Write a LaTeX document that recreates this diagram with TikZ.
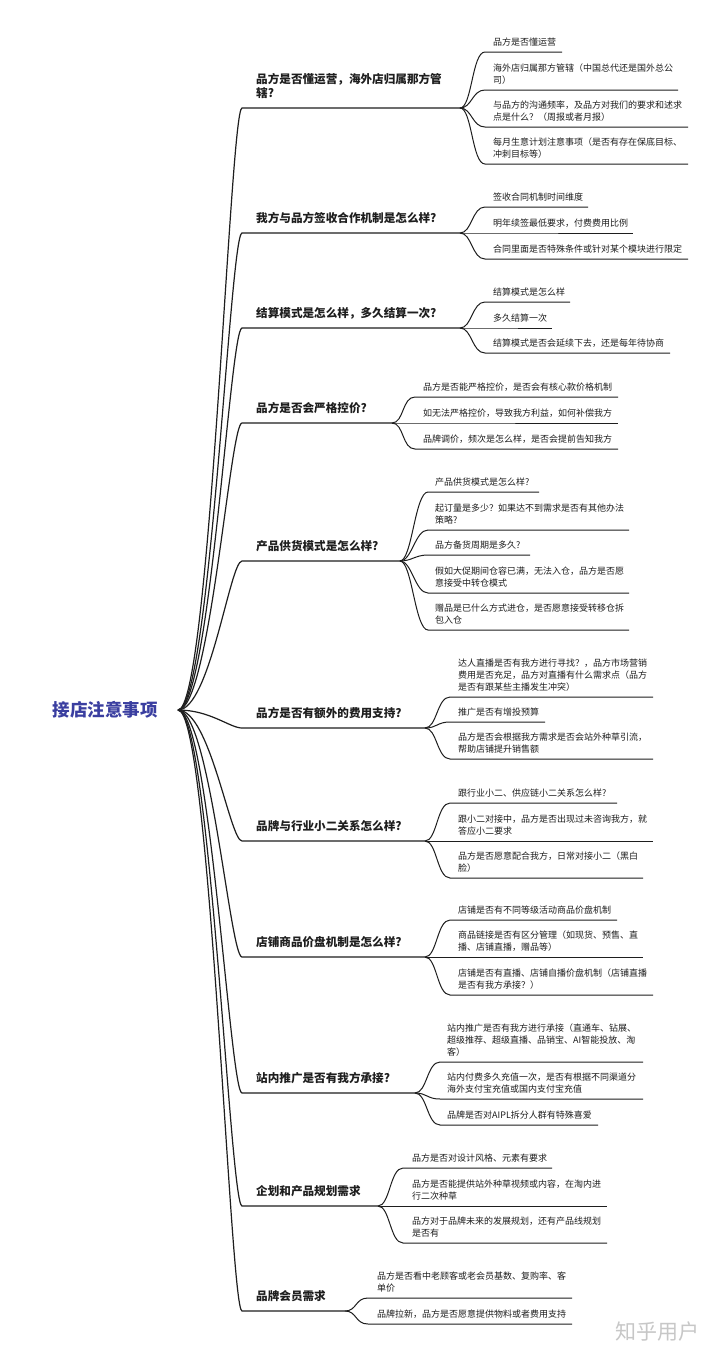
\documentclass[tikz,border=0pt]{standalone}
\usepackage{fontspec}
\newfontfamily\cjk{Noto Sans CJK SC}
\definecolor{rootblue}{RGB}{58,62,160}
\definecolor{ink}{RGB}{30,30,30}
\tikzset{
  l1text/.style={font=\cjk\bfseries\fontsize{11.6}{14}\selectfont, anchor=base west, inner sep=0pt, align=left, text=ink},
  l2text/.style={font=\cjk\fontsize{9}{11.8}\selectfont, anchor=base west, inner sep=0pt, align=left, text=ink},
  l1line/.style={line width=1.2pt, draw=ink},
  l2line/.style={line width=1pt, draw=ink},
  roottext/.style={font=\cjk\bfseries\fontsize{17.5}{20}\selectfont, text=rootblue, inner sep=0pt},
  wmark/.style={font=\cjk\fontsize{21}{24}\selectfont, text=black!22, inner sep=0pt}
}
% base anchor of a multi-line node is the baseline of its last line
\newcommand{\mmbranch}[5]{%
  \coordinate (#1s) at (242,#2);
  \coordinate (#1j) at (#3,#2);
  \draw[l1line] (r) .. controls +(32,0) and +(-12,0) .. (#1s) -- (#1j);
  \node[l1text] (#1t) at (256,{#2-10.6}) {#5};
}
\newcommand{\mmkid}[8]{%
  \coordinate (#1s) at (#3,#4);
  \coordinate (#1e) at (#5,#4);
  \draw[l2line] (#2) .. controls +(12,0) and +(-13,0) .. (#1s) -- (#1e);
  \node[l2text] (#1t) at (#6,{#4-7}) {#8};
}
\begin{document}
\begin{tikzpicture}[x=1pt,y=-1pt]
\useasboundingbox (0,0) rectangle (720,1357);
\fill[white] (0,0) rectangle (720,1357);
\node[roottext] (root) at (105,710) {接店注意事项};
\coordinate (r) at (178,710);

% Branch 1
\mmbranch{b1}{108}{460}{2}{品方是否懂运营，海外店归属那方管\\辖?}
\mmkid{b1a}{b1j}{485}{52}{562}{493}{1}{品方是否懂运营}
\mmkid{b1b}{b1j}{485}{90}{678}{493}{2}{海外店归属那方管辖（中国总代还是国外总公\\司）}
\mmkid{b1c}{b1j}{485}{127}{688}{493}{2}{与品方的沟通频率，及品方对我们的要求和述求\\点是什么？（周报或者月报）}
\mmkid{b1d}{b1j}{485}{164}{688}{493}{2}{每月生意计划注意事项（是否有存在保底目标、\\冲刺目标等）}

% Branch 2
\mmbranch{b2}{233}{460}{1}{我方与品方签收合作机制是怎么样?}
\mmkid{b2a}{b2j}{485}{207}{588}{493}{1}{签收合同机制时间维度}
\mmkid{b2b}{b2j}{485}{233}{633}{493}{1}{明年续签最低要求，付费费用比例}
\mmkid{b2c}{b2j}{485}{259}{688}{493}{1}{合同里面是否特殊条件或针对某个模块进行限定}

% Branch 3
\mmbranch{b3}{328}{460}{1}{结算模式是怎么样，多久结算一次?}
\mmkid{b3a}{b3j}{485}{302}{570}{493}{1}{结算模式是怎么样}
\mmkid{b3b}{b3j}{485}{328}{552}{493}{1}{多久结算一次}
\mmkid{b3c}{b3j}{485}{353}{670}{493}{1}{结算模式是否会延续下去，还是每年待协商}

% Branch 4
\mmbranch{b4}{423}{392}{1}{品方是否会严格控价?}
\mmkid{b4a}{b4j}{415}{397}{618}{423}{1}{品方是否能严格控价，是否会有核心款价格机制}
\mmkid{b4b}{b4j}{415}{423}{618}{423}{1}{如无法严格控价，导致我方利益，如何补偿我方}
\mmkid{b4c}{b4j}{415}{449}{618}{423}{1}{品牌调价，频次是怎么样，是否会提前告知我方}

% Branch 5
\mmbranch{b5}{561}{400}{1}{产品供货模式是怎么样?}
\mmkid{b5a}{b5j}{428}{492}{539}{435}{1}{产品供货模式是怎么样?}
\mmkid{b5b}{b5j}{428}{530}{629}{435}{2}{起订量是多少？如果达不到需求是否有其他办法\\策略?}
\mmkid{b5c}{b5j}{428}{555}{530}{435}{1}{品方备货周期是多久?}
\mmkid{b5d}{b5j}{428}{593}{629}{435}{2}{假如大促期间仓容已满，无法入仓，品方是否愿\\意接受中转仓模式}
\mmkid{b5e}{b5j}{428}{630}{629}{435}{2}{赠品是已什么方式进仓，是否愿意接受转移仓拆\\包入仓}

% Branch 6
\mmbranch{b6}{728}{425}{1}{品方是否有额外的费用支持?}
\mmkid{b6a}{b6j}{450}{697}{653}{458}{3}{达人直播是否有我方进行寻找？，品方市场营销\\费用是否充足，品方对直播有什么需求点（品方\\是否有跟某些主播发生冲突）}
\mmkid{b6b}{b6j}{450}{722}{545}{458}{1}{推广是否有增投预算}
\mmkid{b6c}{b6j}{450}{759}{653}{458}{2}{品方是否会根据我方需求是否会站外种草引流，\\帮助店铺提升销售额}

% Branch 7
\mmbranch{b7}{841}{425}{1}{品牌与行业小二关系怎么样?}
\mmkid{b7a}{b7j}{450}{803}{617}{458}{1}{跟行业小二、供应链小二关系怎么样?}
\mmkid{b7b}{b7j}{450}{841}{653}{458}{2}{跟小二对接中，品方是否出现过未咨询我方，就\\答应小二要求}
\mmkid{b7c}{b7j}{450}{878}{643}{458}{2}{品方是否愿意配合我方，日常对接小二（黑白\\脸）}

% Branch 8
\mmbranch{b8}{957}{425}{1}{店铺商品价盘机制是怎么样?}
\mmkid{b8a}{b8j}{450}{920}{617}{458}{1}{店铺是否有不同等级活动商品价盘机制}
\mmkid{b8b}{b8j}{450}{957}{643}{458}{2}{商品链接是否有区分管理（如现货、预售、直\\播、店铺直播，赠品等）}
\mmkid{b8c}{b8j}{450}{995}{653}{458}{2}{店铺是否有直播、店铺自播价盘机制（店铺直播\\是否有我方承接？）}

% Branch 9
\mmbranch{b9}{1093}{415}{1}{站内推广是否有我方承接?}
\mmkid{b9a}{b9j}{440}{1062}{643}{447}{3}{站内推广是否有我方进行承接（直通车、钻展、\\超级推荐、超级直播、品销宝、AI智能投放、淘\\客）}
\mmkid{b9b}{b9j}{440}{1099}{643}{447}{2}{站内付费多久充值一次，是否有根据不同渠道分\\海外支付宝充值或国内支付宝充值}
\mmkid{b9c}{b9j}{440}{1125}{598}{447}{1}{品牌是否对AIPL拆分人群有特殊喜爱}

% Branch 10
\mmbranch{b10}{1206}{378}{1}{企划和产品规划需求}
\mmkid{b10a}{b10j}{403}{1168}{552}{412}{1}{品方是否对设计风格、元素有要求}
\mmkid{b10b}{b10j}{403}{1206}{607}{412}{2}{品方是否能提供站外种草视频或内容，在淘内进\\行二次种草}
\mmkid{b10c}{b10j}{403}{1243}{607}{412}{2}{品方对于品牌未来的发展规划，还有产品线规划\\是否有}

% Branch 11
\mmbranch{b11}{1311}{345}{1}{品牌会员需求}
\mmkid{b11a}{b11j}{368}{1298}{572}{377}{2}{品方是否看中老顾客或老会员基数、复购率、客\\单价}
\mmkid{b11b}{b11j}{368}{1324}{572}{377}{1}{品牌拉新，品方是否愿意提供物料或者费用支持}

\node[wmark] (wm) at (657,1332) {知乎用户};
\end{tikzpicture}
\end{document}
